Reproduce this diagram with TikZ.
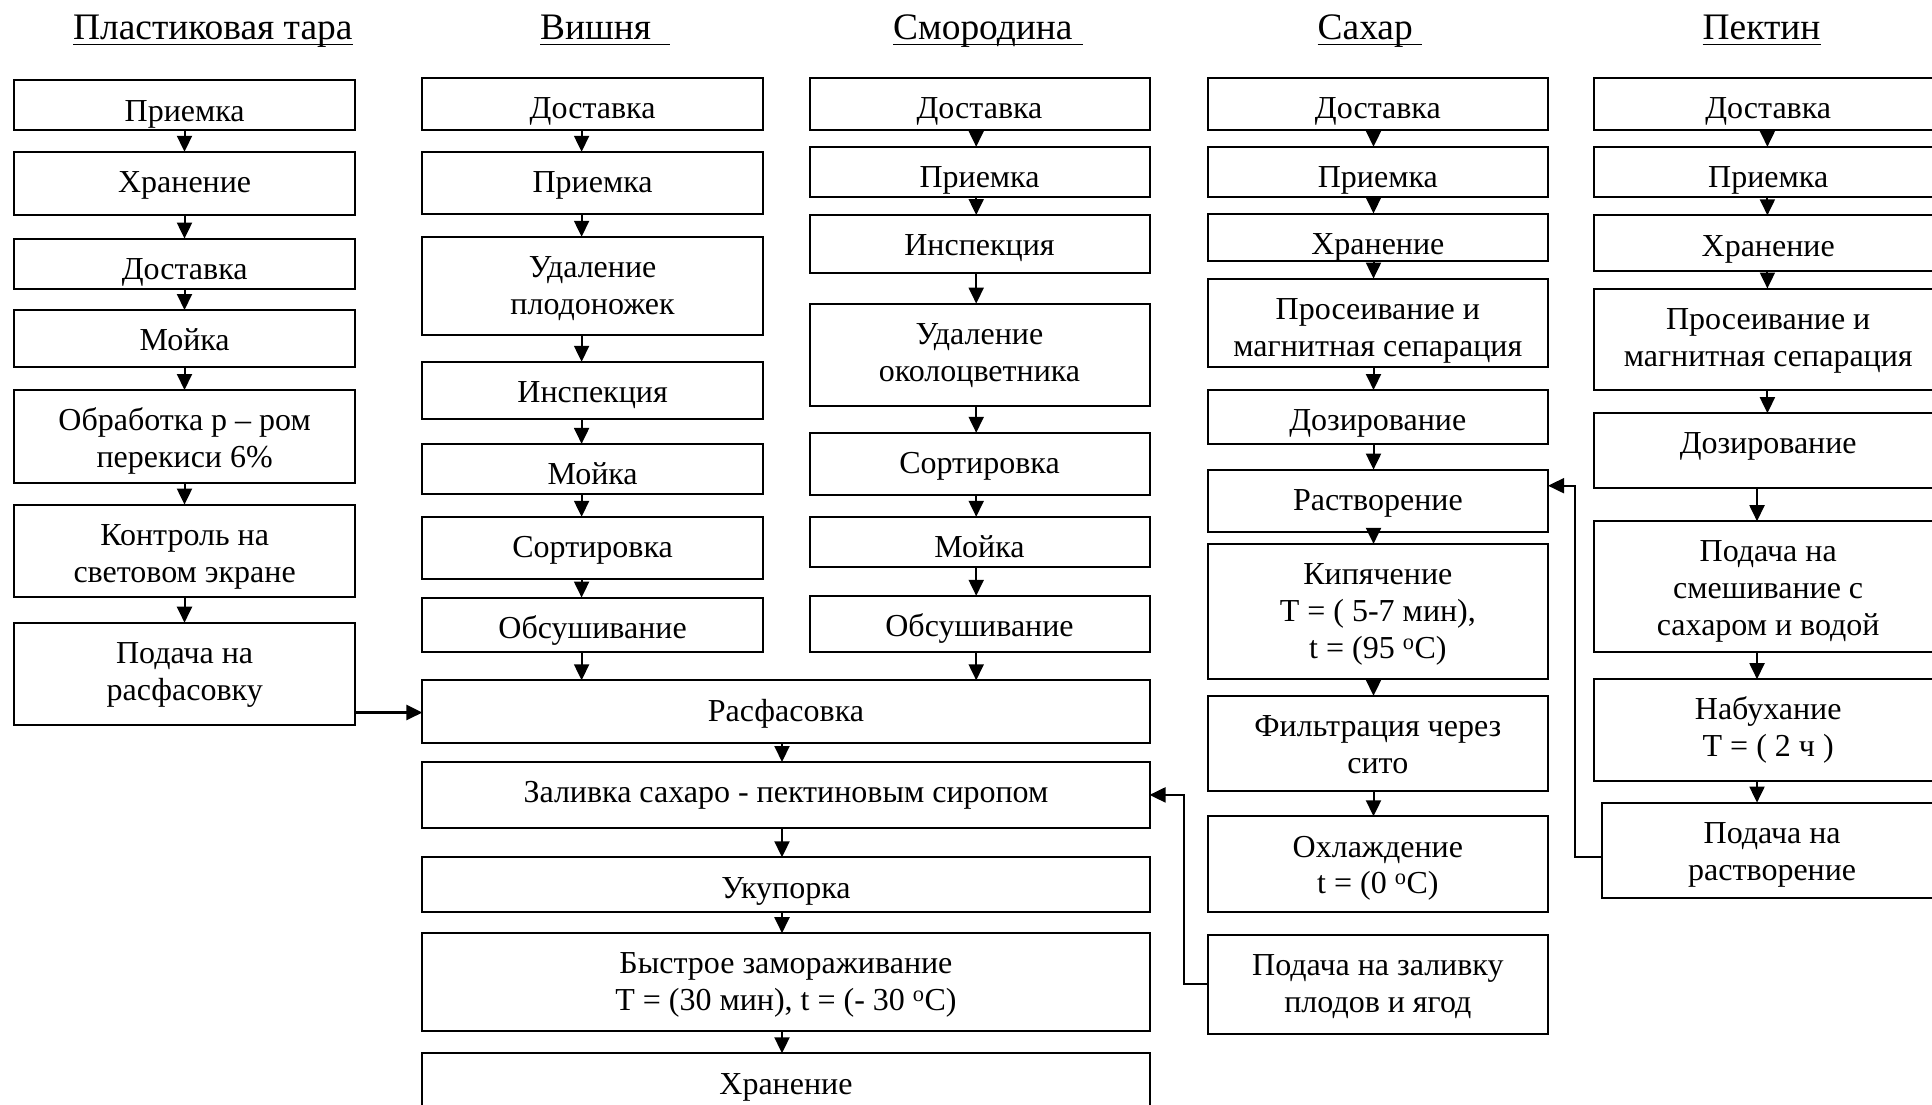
\documentclass[tikz,border=0pt]{standalone}
\usepackage{fontspec}
\setmainfont{Liberation Serif}
\usetikzlibrary{arrows.meta}
\tikzset{
  pbox/.style={draw, line width=2pt, inner sep=0pt, outer sep=0pt},
  ptext/.style={font=\fontsize{32}{36.8}\selectfont, align=center, inner sep=0pt, anchor=north},
  ttl/.style={font=\fontsize{37.4}{41}\selectfont, inner sep=0pt, anchor=base west},
  uline/.style={line width=1.8pt},
  arr/.style={line width=2pt, -{Triangle[length=16pt,width=15pt]}},
}
\newcommand\pbx[6]{%
  \node[pbox, minimum width={#4-#2}, minimum height={#5-#3}] (#1) at ({(#2+#4)/2},{(#3+#5)/2}) {};
  \begin{scope}
    \clip ([shift={(1pt,1pt)}]#1.south west) rectangle ([shift={(-1pt,-1pt)}]#1.north east);
    \node[ptext] (#1t) at ({(#2+#4)/2},{#3+10.5}) {\rule{0pt}{30pt}#6};
  \end{scope}}
\begin{document}
\begin{tikzpicture}[x=1pt,y=-1pt]
\fill[white] (0,0) rectangle (1932,1104);
\useasboundingbox (0,0) rectangle (1932,1104);
\clip (0,0) rectangle (1932,1104);

% titles
\node[ttl] (t1) at (73,39.5) {Пластиковая тара};
\node[ttl] (t2) at (540,39.5) {Вишня};
\node[ttl] (t3) at (893,39.5) {Смородина};
\node[ttl] (t4) at (1317.5,39.5) {Сахар};
\node[ttl] (t5) at (1702.5,39.5) {Пектин};
\coordinate (u2) at (670,44.5);
\coordinate (u3) at (1083,44.5);
\coordinate (u4) at (1421.8,44.5);
\draw[uline] ([yshift=-5pt]t1.base west) -- ([yshift=-5pt]t1.base east);
\draw[uline] (t2.base west |- u2) -- (u2);
\draw[uline] (t3.base west |- u3) -- (u3);
\draw[uline] (t4.base west |- u4) -- (u4);
\draw[uline] ([yshift=-5pt]t5.base west) -- ([yshift=-5pt]t5.base east);

% column 1
\pbx{c1a}{14.3}{80.4}{355}{130.4}{Приемка}
\pbx{c1b}{14.3}{151.8}{355}{215.3}{Хранение}
\pbx{c1c}{14.3}{238.6}{355}{289.3}{Доставка}
\pbx{c1d}{14.3}{310}{355}{366.8}{Мойка}
\pbx{c1e}{14.3}{390}{355}{482.8}{Обработка р – ром\\перекиси 6\%}
\pbx{c1f}{14.3}{504.6}{355}{596.8}{Контроль на\\световом экране}
\pbx{c1g}{14.3}{622.7}{355}{725.2}{Подача на\\расфасовку}

% column 2
\pbx{c2a}{422.4}{77.9}{762.8}{130.4}{Доставка}
\pbx{c2b}{422.4}{151.8}{762.8}{213.5}{Приемка}
\pbx{c2c}{422.4}{236.8}{762.8}{335}{Удаление\\плодоножек}
\pbx{c2d}{422.4}{361.8}{762.8}{418.5}{Инспекция}
\pbx{c2e}{422.4}{443.9}{762.8}{493.9}{Мойка}
\pbx{c2f}{422.4}{516.8}{762.8}{578.8}{Сортировка}
\pbx{c2g}{422.4}{597.6}{762.8}{651.5}{Обсушивание}

% column 3
\pbx{c3a}{809.5}{77.9}{1149.5}{130.4}{Доставка}
\pbx{c3b}{809.5}{146.8}{1149.5}{197.1}{Приемка}
\pbx{c3c}{809.5}{215}{1149.5}{272.5}{Инспекция}
\pbx{c3d}{809.5}{303.6}{1149.5}{406.4}{Удаление\\околоцветника}
\pbx{c3e}{809.5}{432.8}{1149.5}{495}{Сортировка}
\pbx{c3f}{809.5}{516.8}{1149.5}{567}{Мойка}
\pbx{c3g}{809.5}{595.8}{1149.5}{651.5}{Обсушивание}

% main column
\pbx{m1}{422.4}{680.3}{1149.5}{742.5}{Расфасовка}
\pbx{m2}{422.4}{762}{1149.5}{827.8}{Заливка сахаро - пектиновым сиропом}
\pbx{m3}{422.4}{857.3}{1149.5}{912.3}{Укупорка}
\pbx{m4}{422.4}{933.2}{1149.5}{1030.5}{Быстрое замораживание\\T = (30 мин), t = (- 30 \textsuperscript{o}C)}
\pbx{m5}{422.4}{1053.3}{1149.5}{1112}{Хранение}

% column 4
\pbx{c4a}{1207.7}{77.9}{1548}{130.4}{Доставка}
\pbx{c4b}{1207.7}{146.8}{1548}{197.1}{Приемка}
\pbx{c4c}{1207.7}{213.5}{1548}{261.4}{Хранение}
\pbx{c4d}{1207.7}{278.6}{1548}{366.8}{Просеивание и\\магнитная сепарация}
\pbx{c4e}{1207.7}{390}{1548}{443.9}{Дозирование}
\pbx{c4f}{1207.7}{469.6}{1548}{532.1}{Растворение}
\pbx{c4g}{1207.7}{543.9}{1548}{678.5}{Кипячение\\T = ( 5-7 мин),\\t = (95 \textsuperscript{o}C)}
\pbx{c4h}{1207.7}{695.8}{1548}{790.7}{Фильтрация через\\сито}
\pbx{c4i}{1207.7}{816.3}{1548}{911.6}{Охлаждение\\t = (0 \textsuperscript{o}C)}
\pbx{c4j}{1207.7}{934.6}{1548}{1033.9}{Подача на заливку\\плодов и ягод}

% column 5
\pbx{c5a}{1594.4}{77.9}{1942}{130.4}{Доставка}
\pbx{c5b}{1594.4}{146.8}{1942}{197.1}{Приемка}
\pbx{c5c}{1594.4}{215.3}{1942}{271.4}{Хранение}
\pbx{c5d}{1594.4}{288.5}{1942}{390}{Просеивание и\\магнитная сепарация}
\pbx{c5e}{1594.4}{413.2}{1942}{487.6}{Дозирование}
\pbx{c5f}{1594.4}{521.2}{1942}{651.5}{Подача на\\смешивание с\\сахаром и водой}
\pbx{c5g}{1594.4}{679.2}{1942}{781}{Набухание\\T = ( 2 ч )}
\pbx{c5h}{1602.3}{802.6}{1942}{897.9}{Подача на\\растворение}

% arrow columns
\coordinate (ax1) at (184.5,0);
\coordinate (ax2) at (581.6,0);
\coordinate (ax3) at (976.2,0);
\coordinate (axm) at (782,0);
\coordinate (ax4) at (1373.5,0);
\coordinate (ax5) at (1767.4,0);
\coordinate (ax6) at (1757,0);

\foreach \a/\b/\c in {c1a/c1b/ax1, c1b/c1c/ax1, c1c/c1d/ax1, c1d/c1e/ax1, c1e/c1f/ax1, c1f/c1g/ax1,
  c2a/c2b/ax2, c2b/c2c/ax2, c2c/c2d/ax2, c2d/c2e/ax2, c2e/c2f/ax2, c2f/c2g/ax2, c2g/m1/ax2,
  c3a/c3b/ax3, c3b/c3c/ax3, c3c/c3d/ax3, c3d/c3e/ax3, c3e/c3f/ax3, c3f/c3g/ax3, c3g/m1/ax3,
  m1/m2/axm, m2/m3/axm, m3/m4/axm, m4/m5/axm,
  c4a/c4b/ax4, c4b/c4c/ax4, c4c/c4d/ax4, c4d/c4e/ax4, c4e/c4f/ax4, c4f/c4g/ax4, c4g/c4h/ax4, c4h/c4i/ax4,
  c5a/c5b/ax5, c5b/c5c/ax5, c5c/c5d/ax5, c5d/c5e/ax5, c5e/c5f/ax6, c5f/c5g/ax6, c5g/c5h/ax6}
  \draw[arr] (\a.south -| \c) -- (\b.north -| \c);

% horizontal arrow
\coordinate (h1) at (0,712.5);
\draw[arr, line width=2.6pt] (c1g.east |- h1) -- (m1.west |- h1);

% feedback: syrup to filling
\coordinate (k1) at (1184,0);
\draw[arr] (c4j.west) -| (k1 |- m2.east) -- (m2.east);

% feedback: pectin to dissolving
\coordinate (k2) at (1575,857.3);
\coordinate (k3) at (1575,485.7);
\draw[arr] (c5h.west |- k2) -- (k2) -- (k3) -- (c4f.east |- k3);
\end{tikzpicture}
\end{document}
